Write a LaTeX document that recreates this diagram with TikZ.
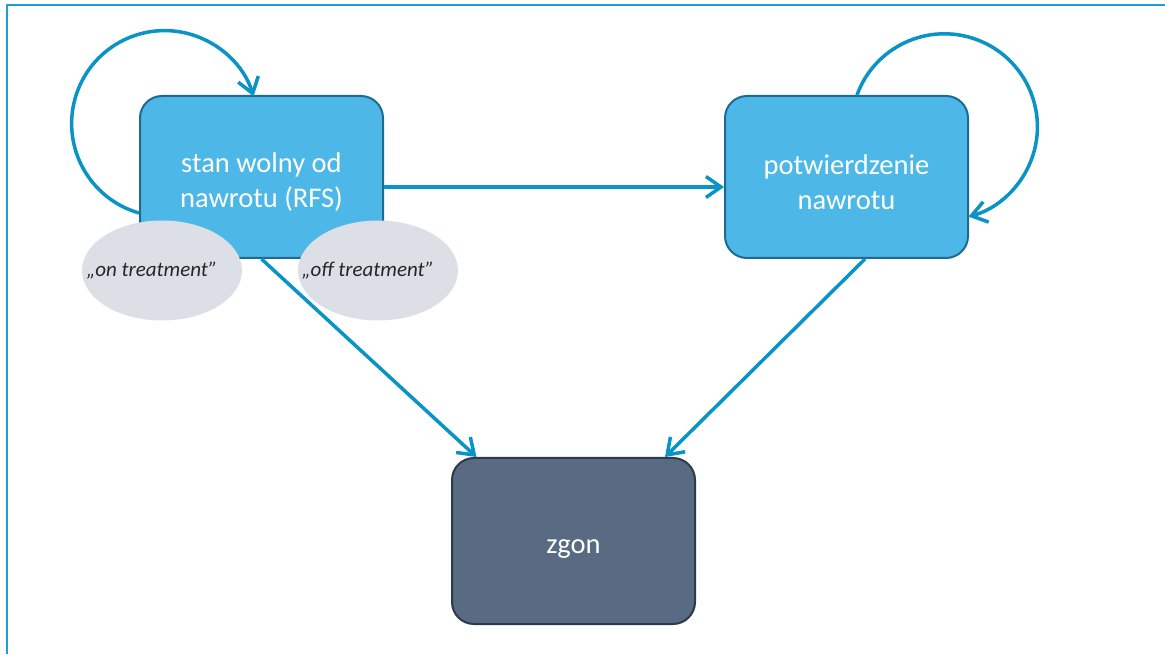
\documentclass[tikz,border=0pt]{standalone}
\usepackage{fontspec}
\setmainfont{Carlito}
\usetikzlibrary{arrows.meta,shapes.geometric}
\definecolor{frameblue}{HTML}{1CA0D0}
\definecolor{conn}{HTML}{0A93C5}
\definecolor{boxfill}{HTML}{4DB8E8}
\definecolor{boxline}{HTML}{1E6A92}
\definecolor{deadfill}{HTML}{586B82}
\definecolor{deadline}{HTML}{2D3A49}
\definecolor{ellfill}{HTML}{DCE0E6}
\tikzset{
  statebox/.style={draw=boxline, line width=2pt, fill=boxfill, rounded corners=22pt,
    minimum width=243pt, minimum height=162pt, inner sep=0pt, text=white,
    align=center, font=\fontsize{28.5}{35}\selectfont},
  deadbox/.style={statebox, draw=deadline, fill=deadfill, minimum height=166pt},
  tag/.style={ellipse, fill=ellfill, minimum width=160pt, minimum height=100pt,
    inner sep=0pt, font=\fontsize{21}{25}\selectfont\itshape, text=black!85},
  conn/.style={draw=conn, line width=3.5pt, -{Straight Barb[length=15pt,width=21pt,line width=3.5pt]}},
  frame/.style={draw=frameblue, line width=2pt}
}
\newcommand{\tagtext}[1]{\makebox[0pt]{\hspace*{-20pt}#1}}
\newcommand{\boxtext}[2]{\raisebox{#1}[0pt][0pt]{\parbox{243pt}{\centering #2}}}
\begin{document}
\begin{tikzpicture}[x=1pt,y=1pt]
\useasboundingbox (0,0) rectangle (1165,654);
\fill[white] (0,0) rectangle (1165,654);
\coordinate (fa) at (7,0);
\coordinate (fb) at (7,648.5);
\coordinate (fc) at (1165,648.5);
\draw[frame] (fa) -- (fb) -- (fc);

\node[statebox] (rfs) at (261.5,477) {\boxtext{-11pt}{stan wolny od\\nawrotu (RFS)}};
\node[statebox] (pot) at (846.5,477) {\boxtext{-11pt}{potwierdzenie\\nawrotu}};
\node[deadbox] (zgon) at (573.5,113) {\raisebox{-12.5pt}[0pt][0pt]{zgon}};

\node[tag] (on) at (162,383.5) {\tagtext{„on treatment”}};
\node[tag] (off) at (378,383.5) {\tagtext{„off treatment”}};

\draw[conn] ([yshift=-10pt]rfs.east) -- ([yshift=-10pt]pot.west);
\draw[conn] (rfs.south) -- ([xshift=-97pt]zgon.north);
\draw[conn] ([xshift=18.5pt]pot.south) -- ([xshift=91.5pt]zgon.north);
\draw[conn] ([yshift=-36pt]rfs.west) arc[start angle=254, end angle=17, radius=93];
\draw[conn] ([xshift=10.5pt]pot.north) arc[start angle=160, end angle=-75, radius=93];
\end{tikzpicture}
\end{document}
